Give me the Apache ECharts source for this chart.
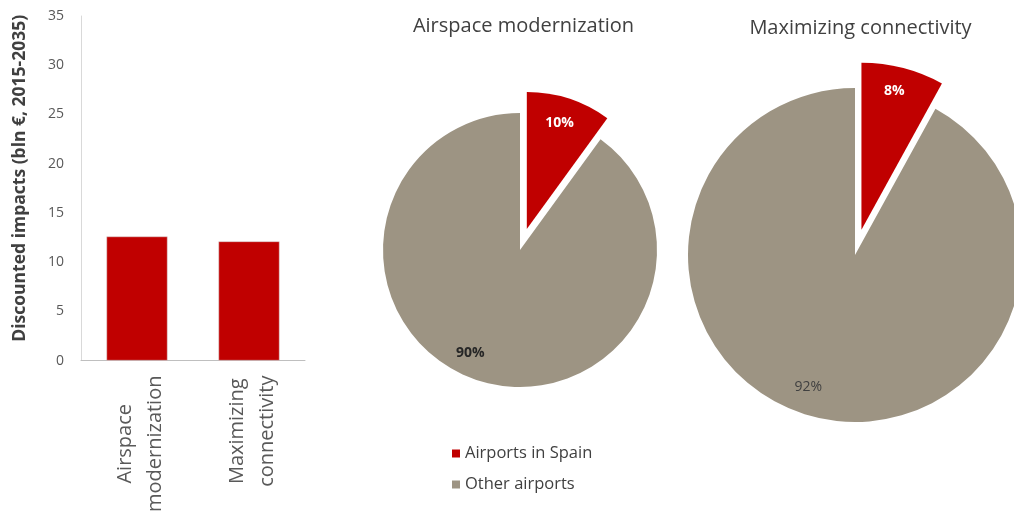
<!DOCTYPE html>
<html>
<head>
<meta charset="utf-8">
<script src="https://cdn.jsdelivr.net/npm/echarts@6/dist/echarts.min.js"></script>
<style>
html,body{margin:0;padding:0;background:#fff;}
#c{width:1014px;height:515px;}
</style>
</head>
<body>
<div id="c"></div>
<script>
// ---- data ----
const barCategories = ['Airspace\nmodernization', 'Maximizing\nconnectivity'];
const barValues = [12.6, 12.1];
const yTicks = [0, 5, 10, 15, 20, 25, 30, 35];
const pieTitles = ['Airspace modernization', 'Maximizing connectivity'];
const sliceNames = ['Airports in Spain', 'Other airports'];
const pieAirspace = [10, 90];
const pieConnectivity = [8, 92];

const RED = '#C00000';
const TAUPE = '#9D9483';
const FONT = '"Open Sans", "Noto Sans", sans-serif';

const chart = echarts.init(document.getElementById('c'), null, {renderer: 'canvas'});

function pieSeries(vals, center, r, offset) {
  return {
    type: 'pie',
    center: center,
    radius: [0, r],
    startAngle: 90,
    clockwise: true,
    selectedMode: 'single',
    selectedOffset: offset,
    silent: true,
    animation: false,
    label: {show: false},
    labelLine: {show: false},
    itemStyle: {borderWidth: 0},
    emphasis: {disabled: true},
    data: vals.map((v, i) => ({
      name: sliceNames[i],
      value: v,
      selected: i === 0,
      itemStyle: {color: i === 0 ? RED : TAUPE}
    }))
  };
}

function pieLabelSeries(vals, center, r, offset, styles) {
  return {
    type: 'pie',
    center: center,
    radius: [r * 0.64, r],
    startAngle: 90,
    clockwise: true,
    selectedMode: 'single',
    selectedOffset: offset,
    silent: true,
    animation: false,
    labelLine: {show: false},
    itemStyle: {borderWidth: 0},
    emphasis: {disabled: true},
    label: {show: true, position: 'inside', formatter: '{c}%', fontFamily: FONT, fontSize: 14},
    data: vals.map((v, i) => ({
      name: sliceNames[i],
      value: v,
      selected: i === 0,
      itemStyle: {color: 'rgba(0,0,0,0)'},
      label: styles[i],
      select: {label: styles[i], itemStyle: {color: 'rgba(0,0,0,0)'}}
    }))
  };
}

const option = {
  backgroundColor: '#fff',
  animation: false,
  title: [
    {text: pieTitles[0], left: 518.5, top: 11, textAlign: 'center',
     textStyle: {fontFamily: FONT, fontSize: 20, fontWeight: 'normal', color: '#404040'}},
    {text: pieTitles[1], left: 855.5, top: 13, textAlign: 'center',
     textStyle: {fontFamily: FONT, fontSize: 20, fontWeight: 'normal', color: '#404040'}}
  ],
  legend: {
    orient: 'vertical',
    left: 447,
    top: 440,
    itemWidth: 8,
    itemHeight: 8,
    itemGap: 14,
    icon: 'rect',
    selectedMode: false,
    textStyle: {fontFamily: FONT, fontSize: 16.5, color: '#404040'},
    data: [
      {name: sliceNames[0], itemStyle: {color: RED}},
      {name: sliceNames[1], itemStyle: {color: TAUPE}}
    ]
  },
  grid: {left: 81, right: 709, top: 16, bottom: 154, containLabel: false},
  xAxis: {
    type: 'category',
    data: barCategories,
    axisLine: {show: true, lineStyle: {color: '#BFBFBF', width: 1}},
    axisTick: {show: false},
    axisLabel: {
      rotate: 90,
      interval: 0,
      margin: 15,
      color: '#595959',
      align: 'right',
      verticalAlign: 'middle',
      padding: [7, 0, 0, 0],
      formatter: v => v.split('\n').map(s => '{c|' + s + '}').join('\n'),
      rich: {
        c: {align: 'center', fontFamily: FONT, fontSize: 20, lineHeight: 30, color: '#595959'}
      }
    }
  },
  yAxis: {
    type: 'value',
    min: 0,
    max: 35,
    interval: 5,
    name: 'Discounted impacts (bln €, 2015-2035)',
    nameLocation: 'middle',
    nameRotate: 90,
    nameGap: 52,
    nameTextStyle: {fontFamily: FONT, fontSize: 17.5, fontWeight: 'bold', color: '#404040', padding: [0, 0, 0, 20]},
    axisLine: {show: true, lineStyle: {color: '#D9D9D9', width: 1}},
    axisTick: {show: false},
    splitLine: {show: false},
    axisLabel: {
      margin: 17,
      fontFamily: FONT,
      fontSize: 14,
      color: '#595959',
      formatter: v => (yTicks.indexOf(v) >= 0 ? String(v) : '')
    }
  },
  series: [
    {
      type: 'bar',
      name: 'Discounted impacts',
      data: barValues,
      barWidth: 61,
      itemStyle: {color: RED, borderColor: '#D9D9D9', borderWidth: 0.5},
      silent: true
    },
    pieSeries(pieAirspace, [520, 250], 137, 22),
    pieSeries(pieConnectivity, [855, 255], 167, 26),
    pieLabelSeries(pieAirspace, [520, 250], 137, 22, [
      {color: '#FFFFFF', fontWeight: 'bold', offset: [-3, 4]},
      {color: '#262626', fontWeight: 'bold', offset: [-14, -7]}
    ]),
    pieLabelSeries(pieConnectivity, [855, 255], 167, 26, [
      {color: '#FFFFFF', fontWeight: 'bold', offset: [-2, -3]},
      {color: '#404040', fontWeight: 'normal', offset: [-12, -4]}
    ])
  ]
};

chart.setOption(option);
</script>
</body>
</html>
